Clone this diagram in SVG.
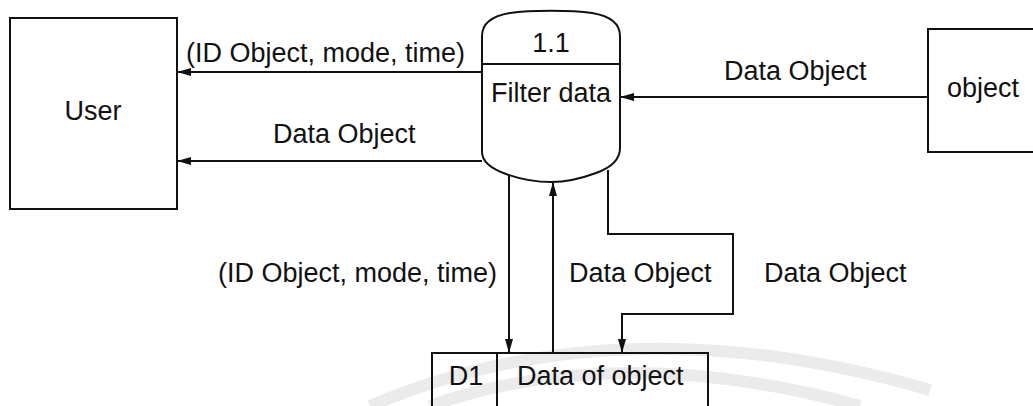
<svg xmlns="http://www.w3.org/2000/svg" width="1033" height="406" viewBox="0 0 1033 406">
<style>
.box{fill:#fff;stroke:#111;stroke-width:2}
.ln{fill:none;stroke:#111;stroke-width:2}
.t{font-family:"Liberation Sans",Arial,sans-serif;font-size:27px;fill:#111}
.wm{fill:none;stroke:#ebebeb;stroke-width:12}
</style>
<defs>
<marker id="ah" markerWidth="14" markerHeight="10" refX="13" refY="5" orient="auto" markerUnits="userSpaceOnUse">
<path d="M0,1 L14,5 L0,9 Z" fill="#111"/>
</marker>
</defs>
<rect width="1033" height="406" fill="#fff"/>
<g id="watermark">
<path class="wm" d="M370,406 Q620,300 930,390"/>
<path class="wm" d="M430,406 Q620,340 860,406"/>
</g>
<g id="user">
<rect class="box" x="10" y="18" width="167" height="191"/>
<text class="t" x="93" y="120" text-anchor="middle">User</text>
</g>
<g id="process">
<path class="box" d="M482,152 L482,36 C482,24 492,16 510,13 C530,10 572,10 592,13 C610,16 620,24 620,36 L620,148 C620,160 610,168 596,173 C580,179 566,182 551,182 C536,182 520,179 506,174 C492,169 482,162 482,152 Z"/>
<line class="ln" x1="482" y1="64" x2="620" y2="64"/>
<text class="t" x="551" y="52" text-anchor="middle">1.1</text>
<text class="t" x="491" y="102">Filter data</text>
</g>
<g id="object">
<rect class="box" x="928" y="29" width="115" height="123"/>
<text class="t" x="947" y="97">object</text>
</g>
<g id="store">
<path class="ln" d="M432,406 L432,353 L708,353 L708,406"/>
<line class="ln" x1="497" y1="353" x2="497" y2="406"/>
<text class="t" x="466" y="385" text-anchor="middle">D1</text>
<text class="t" x="517" y="385">Data of object</text>
</g>
<g id="connectors">
<line class="ln" x1="482" y1="72" x2="178" y2="72" marker-end="url(#ah)"/>
<line class="ln" x1="482" y1="161" x2="178" y2="161" marker-end="url(#ah)"/>
<line class="ln" x1="928" y1="97" x2="621" y2="97" marker-end="url(#ah)"/>
<line class="ln" x1="509" y1="176" x2="509" y2="352" marker-end="url(#ah)"/>
<line class="ln" x1="553" y1="353" x2="553" y2="183" marker-end="url(#ah)"/>
<path class="ln" d="M608,170 L608,234 L733,234 L733,314 L622,314 L622,352" marker-end="url(#ah)"/>
<text class="t" x="186" y="62">(ID Object, mode, time)</text>
<text class="t" x="273" y="143">Data Object</text>
<text class="t" x="724" y="80">Data Object</text>
<text class="t" x="218" y="282">(ID Object, mode, time)</text>
<text class="t" x="569" y="282">Data Object</text>
<text class="t" x="764" y="282">Data Object</text>
</g>
</svg>
